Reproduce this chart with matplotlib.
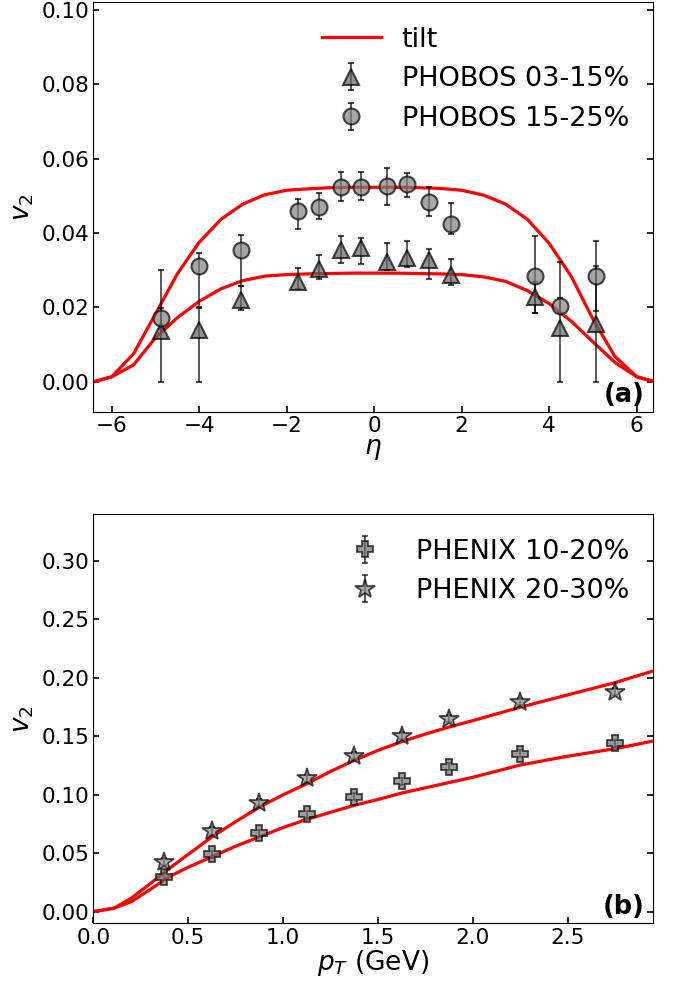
import numpy as np
import matplotlib
matplotlib.use("Agg")
import matplotlib.pyplot as plt

# tilt model, v2 vs pseudorapidity
eta_model = [-6.4, -6.0, -5.5, -5.0, -4.5, -4.0, -3.5, -3.0, -2.5, -2.0, -1.5, -1.0, -0.5, 0.0,
             0.5, 1.0, 1.5, 2.0, 2.5, 3.0, 3.5, 4.0, 4.5, 5.0, 5.5, 6.0, 6.4]
v2_tilt_central = [0.0, 0.0013, 0.0045, 0.0118, 0.0172, 0.0216, 0.025, 0.0272, 0.0284, 0.0288, 0.029, 0.0291, 0.0292, 0.0292,
                   0.0292, 0.0291, 0.029, 0.0288, 0.0282, 0.027, 0.0245, 0.021, 0.0163, 0.0107, 0.0052, 0.0013, 0.0]
v2_tilt_mid = [0.0, 0.0013, 0.0075, 0.0182, 0.029, 0.0375, 0.0437, 0.0478, 0.0503, 0.0515, 0.0519, 0.0522, 0.0523, 0.0523,
               0.0523, 0.0522, 0.052, 0.0515, 0.0502, 0.0478, 0.0437, 0.0372, 0.0284, 0.0168, 0.0068, 0.0013, 0.0]

# PHOBOS data
eta_data = [-4.87, -4.0, -3.05, -1.75, -1.25, -0.75, -0.3, 0.3, 0.75, 1.25, 1.75, 3.68, 4.25, 5.07]
v2_phobos_03_15 = [0.0135, 0.0139, 0.022, 0.0269, 0.0303, 0.0355, 0.0359, 0.0323, 0.0332, 0.0328, 0.0287, 0.0229, 0.0144, 0.0155]
err_lo_03_15 = [0.0135, 0.0139, 0.0027, 0.002, 0.0027, 0.0036, 0.0042, 0.0022, 0.0024, 0.0052, 0.0027, 0.0045, 0.0144, 0.0155]
err_hi_03_15 = [0.0165, 0.006, 0.0038, 0.0036, 0.0038, 0.0037, 0.0027, 0.005, 0.0047, 0.0028, 0.0043, 0.004, 0.0177, 0.0155]
v2_phobos_15_25 = [0.0171, 0.031, 0.0355, 0.0458, 0.0469, 0.0523, 0.0525, 0.0527, 0.0532, 0.0483, 0.0425, 0.0285, 0.0204, 0.0285]
err_lo_15_25 = [0.003, 0.011, 0.0097, 0.0048, 0.0032, 0.0038, 0.0036, 0.0051, 0.0034, 0.0036, 0.0027, 0.0101, 0.002, 0.0094]
err_hi_15_25 = [0.0027, 0.0036, 0.004, 0.0033, 0.0038, 0.004, 0.0038, 0.0047, 0.0029, 0.0042, 0.0057, 0.0107, 0.002, 0.0094]

# tilt model, v2 vs pT
pt_model = [0.0, 0.11, 0.2, 0.3, 0.4, 0.5, 0.625, 0.75, 0.875, 1.0, 1.125, 1.25, 1.375, 1.5, 1.625,
            1.75, 1.875, 2.0, 2.25, 2.5, 2.75, 2.95]
v2_pt_10_20 = [0.0, 0.003, 0.0085, 0.019, 0.030, 0.038, 0.047, 0.056, 0.064, 0.072, 0.079, 0.085, 0.091, 0.096, 0.1015,
               0.106, 0.1105, 0.115, 0.1255, 0.133, 0.1395, 0.146]
v2_pt_20_30 = [0.0, 0.003, 0.0115, 0.024, 0.037, 0.049, 0.064, 0.077, 0.0895, 0.100, 0.1095, 0.120, 0.1295, 0.138, 0.1455,
               0.152, 0.158, 0.1635, 0.175, 0.1855, 0.196, 0.206]

# PHENIX data
pt_data = [0.375, 0.625, 0.875, 1.125, 1.375, 1.625, 1.875, 2.25, 2.75]
v2_phenix_10_20 = [0.030, 0.0493, 0.067, 0.0832, 0.0983, 0.1117, 0.124, 0.1353, 0.1439]
v2_phenix_20_30 = [0.0427, 0.069, 0.0932, 0.114, 0.1333, 0.1504, 0.1652, 0.1795, 0.188]
err_phenix = [0.003, 0.003, 0.003, 0.003, 0.003, 0.003, 0.003, 0.003, 0.003]

fig = plt.figure(figsize=(6.78, 9.85), dpi=100)
ax1 = fig.add_axes([0.1376, 0.582, 0.826, 0.4157])
ax2 = fig.add_axes([0.1376, 0.0626, 0.826, 0.4153])

# --- (a) eta dependence
ax1.plot(eta_model, v2_tilt_central, color='red', lw=2.3, label='tilt')
ax1.plot(eta_model, v2_tilt_mid, color='red', lw=2.3)
ax1.errorbar(eta_data, v2_phobos_03_15, yerr=[err_lo_03_15, err_hi_03_15], fmt='^', ms=12,
             mfc='#666666', mec='black', mew=1.5, ecolor='black', elinewidth=1.3,
             capsize=2.5, capthick=1.3, alpha=0.7, label='PHOBOS 03-15%')
ax1.errorbar(eta_data, v2_phobos_15_25, yerr=[err_lo_15_25, err_hi_15_25], fmt='o', ms=11.5,
             mfc='#808080', mec='black', mew=1.5, ecolor='black', elinewidth=1.3,
             capsize=2.5, capthick=1.3, alpha=0.7, label='PHOBOS 15-25%')
ax1.set_xlim(-6.42, 6.38)
ax1.set_ylim(-0.0081, 0.1021)
ax1.set_yticks([0.0, 0.02, 0.04, 0.06, 0.08, 0.10])
ax1.set_xlabel(r'$\eta$', fontsize=19, labelpad=0)
ax1.set_ylabel(r'$v_2$', fontsize=19)
ax1.legend(loc='upper right', frameon=False, fontsize=19.5, handlelength=2.2, handletextpad=0.75)
ax1.text(0.985, 0.01, '(a)', transform=ax1.transAxes, ha='right', va='bottom',
         fontsize=18.5, fontweight='bold')

# --- (b) pT dependence
ax2.plot(pt_model, v2_pt_10_20, color='red', lw=2.3)
ax2.plot(pt_model, v2_pt_20_30, color='red', lw=2.3)
ax2.errorbar(pt_data, v2_phenix_10_20, yerr=err_phenix, fmt='P', ms=12,
             mfc='#707070', mec='black', mew=1.3, ecolor='black', elinewidth=1.3,
             capsize=2.5, capthick=1.3, alpha=0.7, label='PHENIX 10-20%')
ax2.errorbar(pt_data, v2_phenix_20_30, yerr=err_phenix, fmt='*', ms=15,
             mfc='#8a8a8a', mec='black', mew=1.3, ecolor='black', elinewidth=1.3,
             capsize=2.5, capthick=1.3, alpha=0.7, label='PHENIX 20-30%')
ax2.set_xlim(0.0, 2.95)
ax2.set_ylim(-0.01, 0.34)
ax2.set_xticks([0.0, 0.5, 1.0, 1.5, 2.0, 2.5])
ax2.set_yticks([0.0, 0.05, 0.10, 0.15, 0.20, 0.25, 0.30])
ax2.set_xlabel(r'$p_T$ (GeV)', fontsize=19, labelpad=0)
ax2.set_ylabel(r'$v_2$', fontsize=19)
ax2.legend(loc='upper right', frameon=False, fontsize=19.5, handlelength=2.2, handletextpad=0.75)
ax2.text(0.985, 0.008, '(b)', transform=ax2.transAxes, ha='right', va='bottom',
         fontsize=18.5, fontweight='bold')

for ax in (ax1, ax2):
    ax.tick_params(direction='in', right=True, top=False, length=4, width=1.2,
                   labelsize=15.5, pad=3)

fig.savefig('out.png', dpi=100)
